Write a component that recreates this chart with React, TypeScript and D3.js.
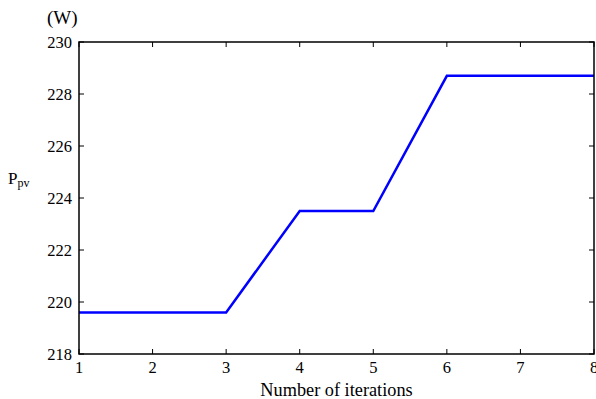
import React from "react";
import * as d3 from "d3";

const iterations = [1, 2, 3, 4, 5, 6, 7, 8];
const ppv = [219.6, 219.6, 219.6, 223.5, 223.5, 228.7, 228.7, 228.7];
const xTicks = [1, 2, 3, 4, 5, 6, 7, 8];
const yTicks = [218, 220, 222, 224, 226, 228, 230];

export default function App() {
  const W = 596, H = 399;
  const m = { left: 79, right: 2, top: 42, bottom: 45 };
  const x = d3.scaleLinear().domain([1, 8]).range([m.left, W - m.right]);
  const y = d3.scaleLinear().domain([218, 230]).range([H - m.bottom, m.top]);
  const line = d3.line<number>().x((_, i) => x(iterations[i])).y((d) => y(d));
  const font = "Liberation Serif";
  const tl = 5;
  const x0 = x.range()[0], x1 = x.range()[1];
  const y0 = y.range()[0], y1 = y.range()[1];
  return (
    <svg width={W} height={H} style={{ position: "absolute", left: 0, top: 0 }}>
      <rect width={W} height={H} fill="#fff" />
      <path d={line(ppv) || ""} fill="none" stroke="#0000ff" strokeWidth={2.5} />
      <rect x={x0} y={y1} width={x1 - x0} height={y0 - y1} fill="none" stroke="#000" strokeWidth={1.5} />
      <g fontFamily={font} fill="#000">
        {xTicks.map((t) => (
          <g key={"x" + t}>
            <line x1={x(t)} x2={x(t)} y1={y0} y2={y0 - tl} stroke="#000" strokeWidth={1} />
            <line x1={x(t)} x2={x(t)} y1={y1} y2={y1 + tl} stroke="#000" strokeWidth={1} />
            <text x={x(t)} y={y0 + 19} textAnchor="middle" fontSize={16.5}>{t}</text>
          </g>
        ))}
        {yTicks.map((t) => (
          <g key={"y" + t}>
            <line x1={x0} x2={x0 + tl} y1={y(t)} y2={y(t)} stroke="#000" strokeWidth={1} />
            <line x1={x1} x2={x1 - tl} y1={y(t)} y2={y(t)} stroke="#000" strokeWidth={1} />
            <text x={x0 - 7} y={y(t) + 6} textAnchor="end" fontSize={16.5}>{t}</text>
          </g>
        ))}
        <text x={(x0 + x1) / 2} y={396} textAnchor="middle" fontSize={18.3}>Number of iterations</text>
        <text x={47} y={24} fontSize={19}>(W)</text>
        <text x={8} y={184} fontSize={17}>
          P<tspan fontSize={12} dy={3}>pv</tspan>
        </text>
      </g>
    </svg>
  );
}
